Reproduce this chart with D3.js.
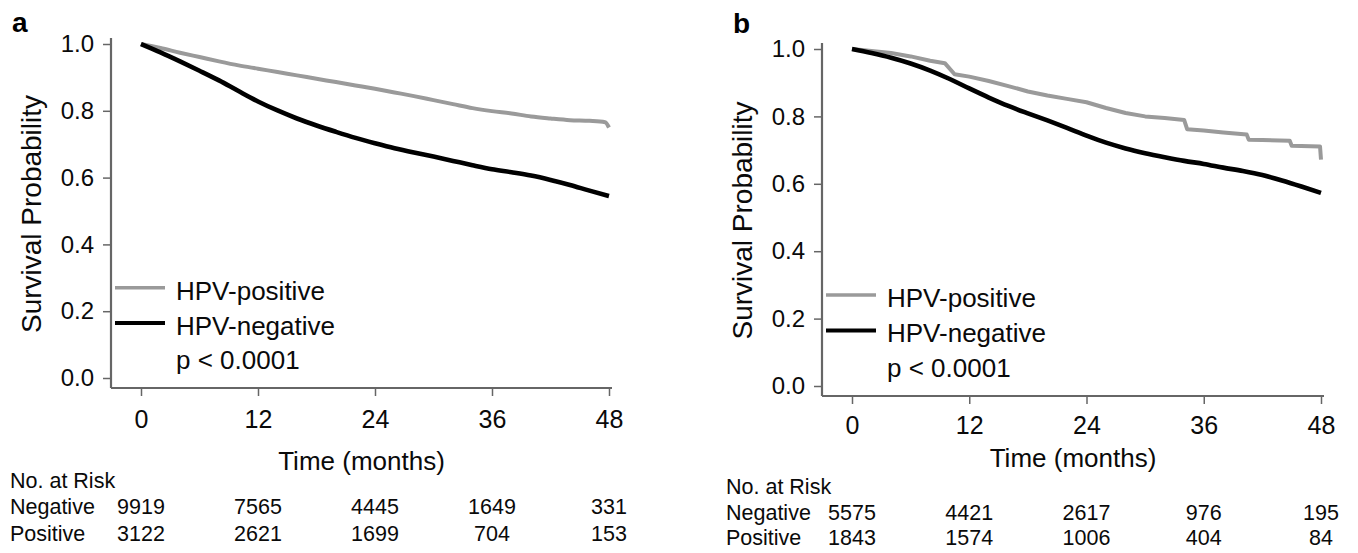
<!DOCTYPE html>
<html>
<head>
<meta charset="utf-8">
<script src="https://cdn.jsdelivr.net/npm/d3@7"></script>
<style>
  html, body { margin: 0; padding: 0; background: #fff; }
  svg { display: block; font-family: "Liberation Sans", Arial, Helvetica, sans-serif; }
</style>
</head>
<body>
<svg id="chart" width="1358" height="553"></svg>
<script>
// ---------- data ----------
const xTickValues = [0, 12, 24, 36, 48];
const yTickValues = [0.0, 0.2, 0.4, 0.6, 0.8, 1.0];
const riskTimes = [0, 12, 24, 36, 48];

// Panel a
const negTimeA = [0, 2, 4, 6, 8, 10, 12, 14, 16, 18, 20, 22, 24, 26, 28, 30, 32, 34, 36, 38, 40, 42, 44, 46, 48];
const negSurvA = [1.000, 0.975, 0.948, 0.920, 0.891, 0.859, 0.828, 0.801, 0.777, 0.756, 0.737, 0.719, 0.703, 0.688, 0.675, 0.663, 0.650, 0.637, 0.625, 0.616, 0.606, 0.593, 0.578, 0.561, 0.545];
const posTimeA = [0, 2, 4, 6, 8, 10, 12, 14, 16, 18, 20, 22, 24, 26, 28, 30, 32, 34, 36, 38, 40, 42, 44, 46, 47.6, 48];
const posSurvA = [1.000, 0.988, 0.974, 0.961, 0.948, 0.936, 0.926, 0.916, 0.906, 0.896, 0.886, 0.876, 0.866, 0.855, 0.844, 0.832, 0.820, 0.808, 0.799, 0.792, 0.783, 0.777, 0.772, 0.770, 0.766, 0.750];
const riskNegA = [9919, 7565, 4445, 1649, 331];
const riskPosA = [3122, 2621, 1699, 704, 153];

// Panel b
const negTimeB = [0, 2, 4, 6, 8, 10, 12, 14, 16, 18, 20, 22, 24, 26, 28, 30, 32, 34, 36, 38, 40, 42, 44, 46, 48];
const negSurvB = [1.000, 0.988, 0.974, 0.957, 0.936, 0.911, 0.883, 0.856, 0.831, 0.809, 0.788, 0.766, 0.743, 0.722, 0.705, 0.691, 0.679, 0.668, 0.659, 0.648, 0.638, 0.626, 0.610, 0.592, 0.573];
const posTimeB = [0, 2, 4, 6, 8, 9.5, 10.5, 12, 14, 16, 18, 20, 22, 24, 26, 28, 30, 32, 34, 34.3, 36, 38, 40.4, 40.6, 42, 44.8, 45, 47.9, 48];
const posSurvB = [1.000, 0.994, 0.988, 0.978, 0.965, 0.958, 0.925, 0.918, 0.905, 0.890, 0.874, 0.862, 0.852, 0.842, 0.825, 0.810, 0.800, 0.795, 0.789, 0.762, 0.758, 0.752, 0.746, 0.731, 0.730, 0.728, 0.713, 0.711, 0.672];
const riskNegB = [5575, 4421, 2617, 976, 195];
const riskPosB = [1843, 1574, 1006, 404, 84];

const seriesLabels = ["HPV-positive", "HPV-negative"];
const pText = "p < 0.0001";
const riskRowLabels = ["Negative", "Positive"];

// ---------- layout ----------
const panels = [
  { letter: "a", x0: 141, x1: 609, yTop: 44, yBot: 378, letterX: 12, letterY: 32,
    tickLabY: 31, titleY: 73, riskHeadY: 92, riskNegY: 118, riskPosY: 145, riskLabelX: 10,
    posStep: false,
    neg: [negTimeA, negSurvA], pos: [posTimeA, posSurvA], riskNeg: riskNegA, riskPos: riskPosA },
  { letter: "b", x0: 852, x1: 1321, yTop: 49, yBot: 386, letterX: 733, letterY: 33,
    tickLabY: 29, titleY: 62, riskHeadY: 90, riskNegY: 116, riskPosY: 141, riskLabelX: 726,
    posStep: true,
    neg: [negTimeB, negSurvB], pos: [posTimeB, posSurvB], riskNeg: riskNegB, riskPos: riskPosB }
];

const svg = d3.select("#chart");
const axisColor = "#666";
const grayColor = "#9a9a9a";
const textColor = "#0a0a0a";

panels.forEach(p => {
  const x = d3.scaleLinear().domain([0, 48]).range([p.x0, p.x1]);
  const y = d3.scaleLinear().domain([0, 1]).range([p.yBot, p.yTop]);
  const axisX = x(0) - 30;          // y-axis line position
  const axisY = y(0) + 10;          // x-axis line position
  const g = svg.append("g");

  // panel letter
  g.append("text").attr("x", p.letterX).attr("y", p.letterY)
    .attr("font-size", 28).attr("font-weight", "bold").attr("fill", "#000").text(p.letter);

  // y axis
  const yAxis = d3.axisLeft(y).tickValues(yTickValues).tickFormat(d3.format(".1f"))
    .tickSize(8).tickPadding(9);
  const ya = g.append("g").attr("transform", `translate(${axisX},0)`).call(yAxis);
  ya.select(".domain").remove();
  ya.selectAll(".tick line").attr("stroke", axisColor).attr("stroke-width", 1.5);
  ya.selectAll(".tick text").attr("font-size", 24).attr("fill", textColor)
    .attr("font-family", "Liberation Sans, Arial, sans-serif");
  g.append("line").attr("x1", axisX).attr("x2", axisX)
    .attr("y1", y(1) - 6).attr("y2", axisY)
    .attr("stroke", axisColor).attr("stroke-width", 2.2);

  // x axis
  const xAxis = d3.axisBottom(x).tickValues(xTickValues).tickSize(8).tickPadding(0);
  const xa = g.append("g").attr("transform", `translate(0,${axisY})`).call(xAxis);
  xa.select(".domain").remove();
  xa.selectAll(".tick line").attr("stroke", axisColor).attr("stroke-width", 1.5);
  xa.selectAll(".tick text").attr("font-size", 25).attr("fill", textColor)
    .attr("font-family", "Liberation Sans, Arial, sans-serif")
    .attr("y", p.tickLabY).attr("dy", "0.35em");
  g.append("line").attr("x1", axisX).attr("x2", x(48) + 3)
    .attr("y1", axisY).attr("y2", axisY)
    .attr("stroke", axisColor).attr("stroke-width", 2.2);

  // axis titles
  g.append("text").attr("x", (axisX + x(48) + 3) / 2).attr("y", axisY + p.titleY)
    .attr("text-anchor", "middle").attr("dy", "0.35em").attr("font-size", 26)
    .attr("fill", textColor).text("Time (months)");
  g.append("text")
    .attr("transform", `translate(${axisX - 80},${(y(0) + y(1)) / 2 + 3}) rotate(-90)`)
    .attr("text-anchor", "middle").attr("dy", "0.35em").attr("font-size", 28)
    .attr("fill", textColor).text("Survival Probability");

  // curves
  const smooth = d3.line().x(d => x(d[0])).y(d => y(d[1])).curve(d3.curveMonotoneX);
  const straight = d3.line().x(d => x(d[0])).y(d => y(d[1])).curve(d3.curveLinear);
  const posData = p.pos[0].map((t, i) => [t, p.pos[1][i]]);
  const negData = p.neg[0].map((t, i) => [t, p.neg[1][i]]);
  g.append("path").datum(posData).attr("d", p.posStep ? straight : smooth).attr("fill", "none")
    .attr("stroke", grayColor).attr("stroke-width", 4).attr("stroke-linejoin", "round");
  g.append("path").datum(negData).attr("d", smooth).attr("fill", "none")
    .attr("stroke", "#000").attr("stroke-width", 4.6).attr("stroke-linejoin", "round");

  // legend
  const legY = [y(0.27), y(0.165)];
  const legCol = [grayColor, "#000"];
  const legW = [3.5, 4];
  seriesLabels.forEach((lab, i) => {
    g.append("line").attr("x1", axisX + 4).attr("x2", axisX + 54)
      .attr("y1", legY[i]).attr("y2", legY[i])
      .attr("stroke", legCol[i]).attr("stroke-width", legW[i]);
    g.append("text").attr("x", axisX + 65).attr("y", legY[i] + 3).attr("dy", "0.35em")
      .attr("font-size", 26).attr("fill", textColor).text(lab);
  });
  g.append("text").attr("x", axisX + 65).attr("y", y(0.055)).attr("dy", "0.35em")
    .attr("font-size", 26).attr("fill", textColor).text(pText);

  // risk table
  g.append("text").attr("x", p.riskLabelX).attr("y", axisY + p.riskHeadY).attr("dy", "0.35em")
    .attr("font-size", 21.5).attr("fill", textColor).text("No. at Risk");
  const rows = [[p.riskNegY, p.riskNeg], [p.riskPosY, p.riskPos]];
  rows.forEach((r, i) => {
    g.append("text").attr("x", p.riskLabelX).attr("y", axisY + r[0]).attr("dy", "0.35em")
      .attr("font-size", 21.5).attr("fill", textColor).text(riskRowLabels[i]);
    g.selectAll(null).data(riskTimes).enter().append("text")
      .attr("x", d => x(d)).attr("y", axisY + r[0]).attr("dy", "0.35em")
      .attr("text-anchor", "middle").attr("font-size", 21.5).attr("fill", textColor)
      .text((d, j) => r[1][j]);
  });
});
</script>
</body>
</html>
